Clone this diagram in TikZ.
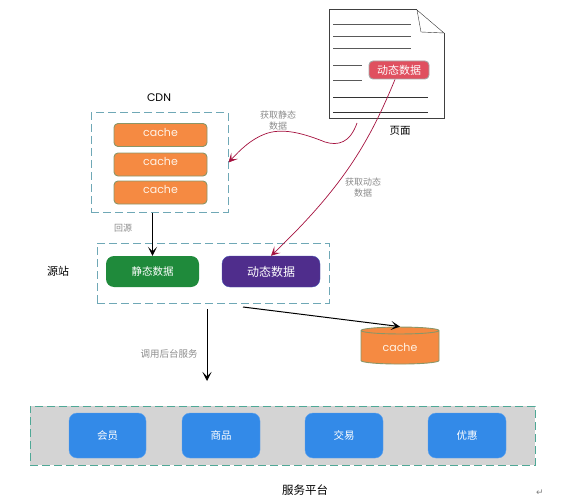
\documentclass[tikz,border=0pt]{standalone}
\usepackage{fontspec}
\setmainfont{Noto Sans CJK SC}
\newfontfamily\latinfont{Poppins}
\newfontfamily\symbolfont{DejaVu Sans}
\usetikzlibrary{shapes.geometric, positioning, calc, arrows.meta}

\definecolor{cacheorange}{HTML}{F58A42}
\definecolor{cacheedge}{HTML}{8A9668}
\definecolor{dashblue}{HTML}{6FA8B6}
\definecolor{dashgreen}{HTML}{4FA896}
\definecolor{staticgreen}{HTML}{1F8A3B}
\definecolor{dynpurple}{HTML}{4F2D8C}
\definecolor{platblue}{HTML}{338AE8}
\definecolor{badgered}{HTML}{E0505F}
\definecolor{curvered}{HTML}{A5123F}
\definecolor{lightgray}{HTML}{D4D4D4}

\tikzset{
     dashbox/.style={draw=dashblue, line width=1pt, dash pattern=on 8pt off 4pt, inner sep=0pt},
     cachebox/.style={draw=cacheedge, line width=0.9pt, fill=cacheorange, rounded corners=4pt, minimum width=93pt, minimum height=23pt, inner sep=0pt, text=white!90!orange, font=\latinfont\fontsize{11}{11}\selectfont, text depth=6pt},
     databox/.style={rounded corners=8pt, minimum height=31pt, inner sep=0pt, text=white},
     platbox/.style={fill=platblue, draw=platblue!80!white, rounded corners=8pt, minimum width=77pt, minimum height=45pt, inner sep=0pt, text=white, font=\fontsize{10.5}{10.5}\selectfont},
     graytext/.style={text=black!45, font=\fontsize{9}{10.5}\selectfont, align=center, inner sep=0pt},
     blacktext/.style={font=\fontsize{11}{11}\selectfont, inner sep=0pt},
     blackarrow/.style={->, >={Stealth[length=9pt, width=9pt, inset=4.5pt]}, line width=1pt},
     redarrow/.style={->, >={Stealth[length=9pt, width=9pt, inset=4.5pt]}, draw=curvered, line width=0.7pt}
}

\begin{document}
\begin{tikzpicture}[x=1pt, y=-1pt]
               \useasboundingbox (0,0) rectangle (562,500);
               % page
               \draw[line width=1pt, draw=black!75] (417,10)--(329,10)--(329,119)--(444,119)--(444,33);
               \draw[draw=black!80] (417,10)--(444,33)--(421,32)--(417,10);
               \foreach \y in {24,36,48}
                    \draw[line width=0.9pt, draw=black!65] (333,\y)--(411,\y);
               \foreach \y in {65,80}
                    \draw[line width=0.9pt, draw=black!65] (333,\y)--(362,\y);
               \foreach \y in {97,112}
                    \draw[line width=0.8pt, draw=black!80] (333,\y)--(428,\y);
               \node[fill=badgered, draw=black!35, line width=0.9pt, rounded corners=4pt, minimum width=60pt, minimum height=18pt, inner sep=0pt, text=white, font=\fontsize{11}{11}\selectfont] (badge) at (399,70) {动态数据};
               \node[blacktext, font=\fontsize{10.5}{10.5}\selectfont] (pagelabel) at (400,131) {页面};
               % cdn
               \node[blacktext, font=\latinfont\fontsize{11}{11}\selectfont] (cdnlabel) at (159,98) {CDN};
               \node[dashbox, minimum width=137pt, minimum height=99pt] (cdn) at (159.5,162.5) {};
               \node[cachebox] (cachea) at (160.5,135) {cache};
               \node[cachebox] (cacheb) at (160.5,164.5) {cache};
               \node[cachebox] (cachec) at (160.5,192.5) {cache};
               \node[graytext] (huiyuan) at (123,228) {回源};
               % source
               \node[blacktext] (yuanzhan) at (58,271) {源站};
               \node[dashbox, minimum width=232pt, minimum height=60pt] (source) at (213,273) {};
               \node[databox, fill=staticgreen, minimum width=93pt, font=\fontsize{10.5}{10.5}\selectfont] (jingtai) at (152.5,271.5) {静态数据};
               \node[databox, fill=dynpurple, draw=platblue!40!dynpurple, minimum width=98pt, font=\fontsize{12}{12}\selectfont] (dongtai) at (271,271.5) {动态数据};
               % db
               \node[cylinder, shape border rotate=90, aspect=0.2, line width=0.9pt, draw=cacheedge, fill=cacheorange, minimum width=78pt, minimum height=37pt, inner sep=0pt, text=white!90!orange, font=\latinfont\fontsize{11}{11}\selectfont] (db) at (400,347.5) {cache};
               % platform
               \node[dashbox, draw=dashgreen, fill=lightgray, minimum width=505pt, minimum height=59pt] (platform) at (282.5,435.5) {};
               \node[platbox] (huiyuanbox) at (107.5,435.5) {会员};
               \node[platbox, minimum width=78pt] (shangpin) at (221,435.5) {商品};
               \node[platbox, minimum width=78pt] (jiaoyi) at (344,435.5) {交易};
               \node[platbox, minimum width=78pt] (youhui) at (467,435.5) {优惠};
               \node[blacktext, font=\fontsize{11.5}{11.5}\selectfont] (platlabel) at (305,490) {服务平台};
               \node[inner sep=0pt, text=black!50, font=\symbolfont\fontsize{9}{9}\selectfont] (retmark) at (540,493) {↵};
               % labels
               \node[graytext] (staticlabel) at (278,120.5) {获取静态\\数据};
               \node[graytext] (dynlabel) at (363,187.5) {获取动态\\数据};
               \node[graytext, font=\fontsize{9.5}{9.5}\selectfont] (calllabel) at (169,354) {调用后台服务};
               % connectors
               \coordinate (staticstart) at (357,123);
               \coordinate (dynstart) at ([xshift=-4pt]badge.south);
               \coordinate (callstart) at (207,309);
               \coordinate (callend) at (207,381);
               \coordinate (dbstart) at (243,307);
               \draw[blackarrow] (jingtai.north |- cdn.south)--(jingtai.north);
               \draw[blackarrow] (callstart)--(callend);
               \draw[blackarrow] (dbstart)--(db.north);
               \draw[redarrow] (staticstart) .. controls (350,143) and (338,146) .. (325,142) .. controls (305,134) and (285,128) .. (268,133) .. controls (252,138) and (240,150) .. (cdn.east);
               \draw[redarrow] (dynstart) .. controls (370,140) and (345,185) .. (dongtai.north);
          \end{tikzpicture}
\end{document}
